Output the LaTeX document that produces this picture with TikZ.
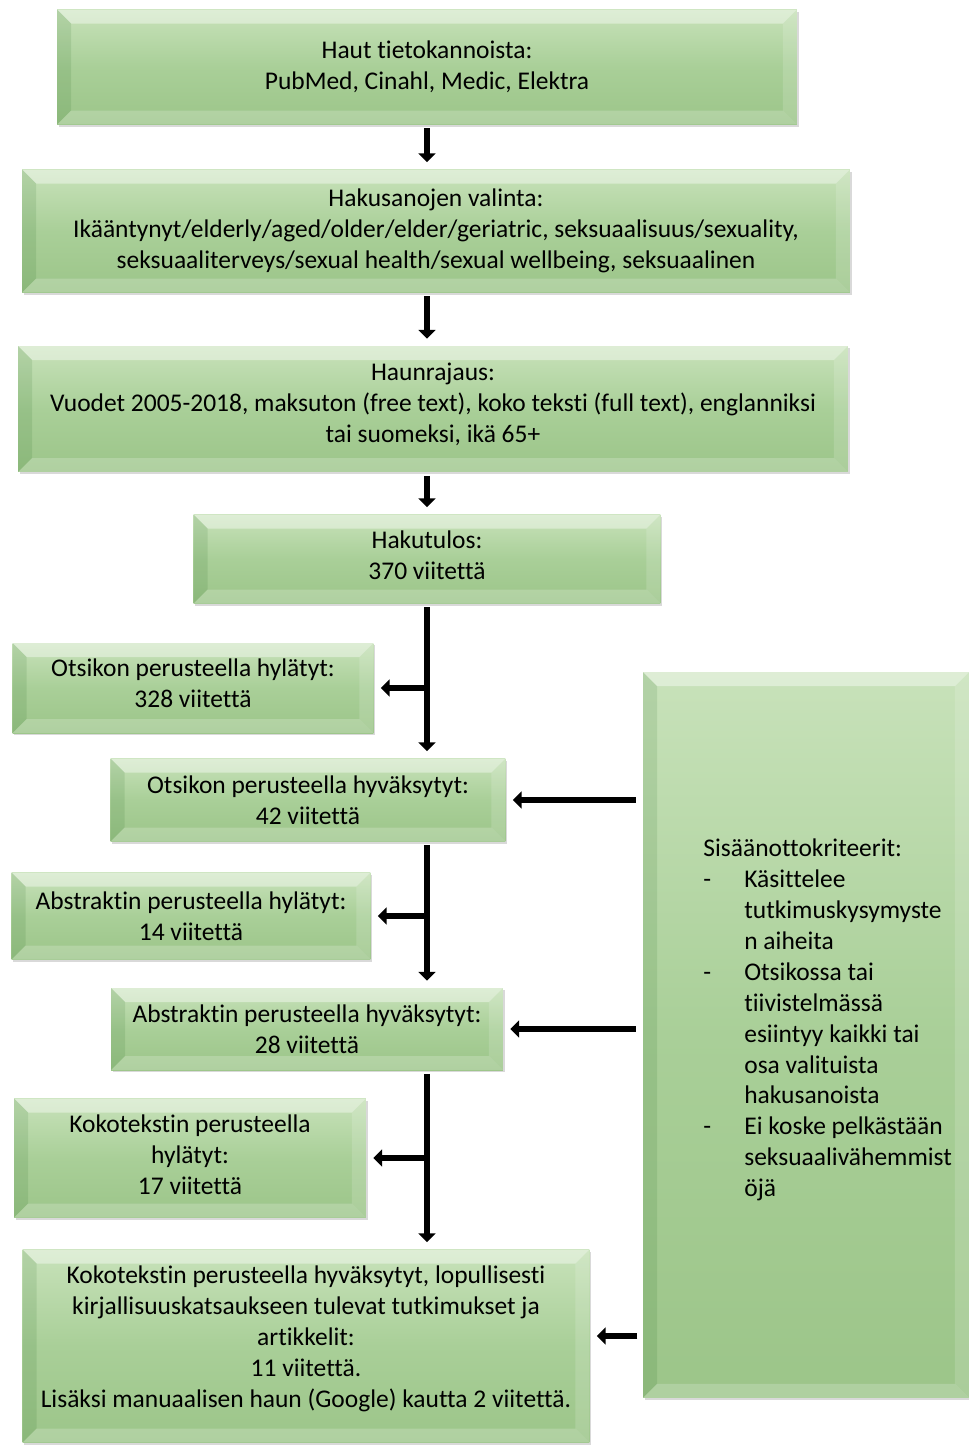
\documentclass[tikz,border=0pt]{standalone}
\usepackage{fontspec}
\setmainfont{Carlito}[Ligatures=NoCommon]
\usetikzlibrary{arrows.meta,shadows,calc}

\definecolor{vihrYla}{HTML}{C8E2BA}
\definecolor{vihrKeski}{HTML}{A9CF98}
\definecolor{vihrAla}{HTML}{9CC589}

% lisasyvyys viimeiselle riville, nostaa tekstia laatikossa
\newcommand{\nosto}[1]{\rule[-#1]{0pt}{0pt}}

\tikzset{
  teksti/.style={font=\fontsize{14.5}{17.6}\selectfont},
  laatikko/.style={teksti, draw=none, top color=vihrYla, bottom color=vihrAla, middle color=vihrKeski,
    align=center, inner sep=2pt,
    drop shadow={shadow xshift=1pt, shadow yshift=-1.3pt, opacity=.3},
    path picture={
      \coordinate (pNW) at (path picture bounding box.north west);
      \coordinate (pNE) at (path picture bounding box.north east);
      \coordinate (pSW) at (path picture bounding box.south west);
      \coordinate (pSE) at (path picture bounding box.south east);
      \fill[white, opacity=.4] (pNW) -- (pNE) -- ([shift={(-0.28cm,-0.28cm)}]pNE) -- ([shift={(0.28cm,-0.28cm)}]pNW) -- cycle;
      \fill[black!70!green, opacity=.1] (pNW) -- ([shift={(0.28cm,-0.28cm)}]pNW) -- ([shift={(0.28cm,0.28cm)}]pSW) -- (pSW) -- cycle;
      \fill[white, opacity=.2] (pSW) -- ([shift={(0.28cm,0.28cm)}]pSW) -- ([shift={(-0.28cm,0.28cm)}]pSE) -- (pSE) -- cycle;
      \fill[white, opacity=.15] (pNE) -- (pSE) -- ([shift={(-0.28cm,0.28cm)}]pSE) -- ([shift={(-0.28cm,-0.28cm)}]pNE) -- cycle;
    }},
  nuoli/.style={line width=3.6pt, -{Triangle[width=9.6pt,length=5pt]}, shorten >=4pt},
}

\begin{document}
\begin{tikzpicture}[x=0.02cm, y=-0.02cm]
    \useasboundingbox (0,0) rectangle (969,1445);

    % hakuvaiheet ylhaalla
    \node[laatikko, minimum width=14.8cm, minimum height=2.3cm] (haut) at (427,67)
        {Haut tietokannoista:\\PubMed, Cinahl, Medic, Elektra};
    \node[laatikko, minimum width=16.56cm, minimum height=2.46cm] (hakus) at (436,231)
        {Hakusanojen valinta:\\Ikääntynyt/elderly/aged/older/elder/geriatric, seksuaalisuus/sexuality,\\seksuaaliterveys/sexual health/sexual wellbeing, seksuaalinen};
    \node[laatikko, minimum width=16.6cm, minimum height=2.52cm] (rajaus) at (433,409)
        {Haunrajaus:\\Vuodet 2005-2018, maksuton (free text), koko teksti (full text), englanniksi\\tai suomeksi, ikä 65+\nosto{7pt}};
    \node[laatikko, minimum width=9.34cm, minimum height=1.78cm] (tulos) at (427,559)
        {Hakutulos:\\370 viitettä\nosto{4.5pt}};

    % hylatyt vasemmalla, hyvaksytyt keskella
    \node[laatikko, minimum width=7.22cm, minimum height=1.8cm] (otsHyl) at (193,688)
        {Otsikon perusteella hylätyt:\\328 viitettä\nosto{5.7pt}};
    \node[laatikko, minimum width=7.9cm, minimum height=1.66cm] (otsHyv) at (308,800)
        {Otsikon perusteella hyväksytyt:\\42 viitettä};
    \node[laatikko, minimum width=7.18cm, minimum height=1.74cm] (absHyl) at (191,916)
        {Abstraktin perusteella hylätyt:\\14 viitettä};
    \node[laatikko, minimum width=7.84cm, minimum height=1.64cm] (absHyv) at (307,1029)
        {Abstraktin perusteella hyväksytyt:\\28 viitettä};
    \node[laatikko, minimum width=7.04cm, minimum height=2.38cm] (kokoHyl) at (190,1158)
        {Kokotekstin perusteella\\hylätyt:\\17 viitettä\nosto{3.5pt}};
    \node[laatikko, minimum width=11.34cm, minimum height=3.86cm] (loppu) at (306,1346)
        {Kokotekstin perusteella hyväksytyt, lopullisesti\\kirjallisuuskatsaukseen tulevat tutkimukset ja\\artikkelit:\\11 viitettä.\\Lisäksi manuaalisen haun (Google) kautta 2 viitettä.\nosto{11pt}};

    % kriteerit oikealla
    \node[laatikko, minimum width=6.52cm, minimum height=14.52cm] (krit) at (806,1035) {};
    \node[teksti, anchor=west, align=left, inner sep=0pt] (kritTeksti) at (703,1020)
        {Sisäänottokriteerit:\\
         \makebox[0.82cm][l]{-}Käsittelee\\
         \hspace*{0.82cm}tutkimuskysymyste\\
         \hspace*{0.82cm}n aiheita\\
         \makebox[0.82cm][l]{-}Otsikossa tai\\
         \hspace*{0.82cm}tiivistelmässä\\
         \hspace*{0.82cm}esiintyy kaikki tai\\
         \hspace*{0.82cm}osa valituista\\
         \hspace*{0.82cm}hakusanoista\\
         \makebox[0.82cm][l]{-}Ei koske pelkästään\\
         \hspace*{0.82cm}seksuaalivähemmist\\
         \hspace*{0.82cm}öjä};

    % nuolet
    \draw[nuoli, shorten <=2pt] (haut.south) -- (haut.south |- hakus.north);
    \draw[nuoli, shorten <=2pt] (tulos.north |- hakus.south) -- (tulos.north |- rajaus.north);
    \draw[nuoli, shorten <=2pt] (tulos.north |- rajaus.south) -- (tulos.north);

    \draw[nuoli, shorten <=2pt] (tulos.south) -- (tulos.south |- otsHyv.north);
    \draw[nuoli] (tulos.south |- otsHyl.east) -- (otsHyl.east);
    \draw[nuoli, shorten <=2pt] (tulos.south |- otsHyv.south) -- (tulos.south |- absHyv.north);
    \draw[nuoli] (tulos.south |- absHyl.east) -- (absHyl.east);
    \draw[nuoli, shorten <=2pt] (tulos.south |- absHyv.south) -- (tulos.south |- loppu.north);
    \draw[nuoli] (tulos.south |- kokoHyl.east) -- (kokoHyl.east);

    \draw[nuoli, shorten <=4pt] (krit.west |- otsHyv.east) -- (otsHyv.east);
    \draw[nuoli, shorten <=4pt] (krit.west |- absHyv.east) -- (absHyv.east);
    \draw[nuoli, shorten <=3pt] (krit.west |- {$(loppu.east)+(0,-10)$}) -- ($(loppu.east)+(0,-10)$);
\end{tikzpicture}
\end{document}
